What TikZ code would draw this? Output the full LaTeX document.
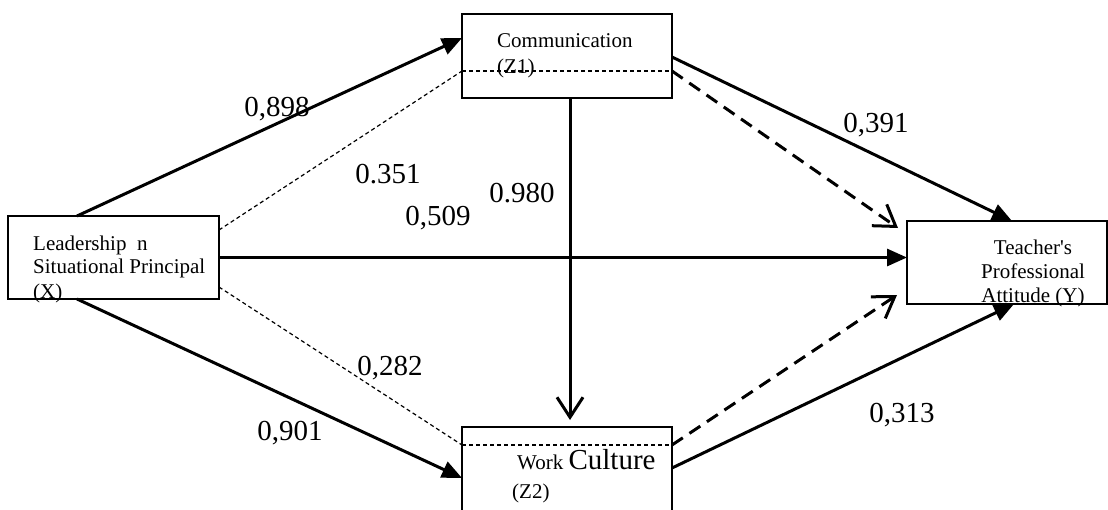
\documentclass[tikz,border=0pt]{standalone}
\usepackage{fontspec}
\setmainfont{Liberation Serif}
\usetikzlibrary{arrows.meta}
\begin{document}
\begin{tikzpicture}[x=1pt,y=-1pt,
  box/.style={draw, line width=2.5pt, inner sep=0pt, outer sep=0pt},
  boxtxt/.style={anchor=base west, inner sep=0pt, font=\fontsize{21}{24}\selectfont},
  boxtxtc/.style={anchor=base, inner sep=0pt, font=\fontsize{21}{24}\selectfont},
  coef/.style={anchor=base, inner sep=0pt, font=\fontsize{29}{32}\selectfont},
  solidarrow/.style={line width=3pt, -{Triangle[length=20pt,width=17pt]}},
  dasharrow/.style={line width=3pt, dash pattern=on 13pt off 8pt, -{Straight Barb[length=20pt,width=26pt]}},
  openarrow/.style={line width=3pt, -{Straight Barb[length=20pt,width=26pt]}},
  thindash/.style={line width=1.2pt, dash pattern=on 4pt off 3pt}]
\useasboundingbox (0,0) rectangle (1108,509);
\clip (0,0) rectangle (1108,509);
\fill[white] (0,0) rectangle (1108,509);

% boxes
\node[box, minimum width=211pt, minimum height=83pt] (X) at (113.5,257.5) {};
\node[box, minimum width=210pt, minimum height=84pt] (Z1) at (567,56) {};
\node[box, minimum width=210pt, minimum height=88pt] (Z2) at (567,471) {};
\node[box, minimum width=200pt, minimum height=83pt] (Y) at (1007,262.5) {};

% box texts
\node[boxtxt] (xt1) at (33,250) {Leadership\ \ n};
\node[boxtxt] (xt2) at (33,273) {Situational Principal};
\node[boxtxt] (xt3) at (33,298) {(X)};
\node[boxtxt] (z1t1) at (497,47) {Communication};
\node[boxtxt] (z1t2) at (497,73) {(Z1)};
\node[boxtxt] (z2t1) at (517,469) {Work {\fontsize{29}{32}\selectfont Culture}};
\node[boxtxt] (z2t2) at (512,498) {(Z2)};
\node[boxtxtc] (yt1) at (1033,254) {Teacher\textquotesingle s};
\node[boxtxtc] (yt2) at (1033,278) {Professional};
\node[boxtxtc] (yt3) at (1033,302) {Attitude (Y)};

% helper coordinates
\coordinate (z1dl) at ([yshift=-15pt]Z1.west);
\coordinate (z1dr) at ([yshift=-15pt]Z1.east);
\coordinate (z2dl) at ([yshift=26pt]Z2.west);
\coordinate (z2dr) at ([yshift=26pt]Z2.east);
\coordinate (yup) at ([xshift=-9pt,yshift=-7pt]Y.north west);
\coordinate (ylo) at ([xshift=-10pt,yshift=9pt]Y.south west);

% dashed separators inside boxes
\draw[thindash] (z1dl) -- (z1dr);
\draw[thindash] (z2dl) -- (z2dr);

% thin dashed from X
\draw[thindash] ([yshift=27.5pt]X.east) -- (z1dl);
\draw[thindash] ([yshift=-29.5pt]X.east) -- (z2dl);

% solid arrows
\draw[solidarrow] ([xshift=69pt]X.north west) -- ([yshift=18pt]Z1.west);
\draw[solidarrow] ([xshift=69pt]X.south west) -- ([yshift=-7pt]Z2.west);
\draw[solidarrow] (X.east) -- (X.east -| Y.west);
\draw[solidarrow] ([yshift=-1pt]Z1.east) -- ([xshift=5pt]Y.north);
\draw[solidarrow] ([yshift=3pt]Z2.east) -- ([xshift=7pt]Y.south);

% vertical arrow
\draw[openarrow] ([xshift=3pt]Z1.south) -- ([xshift=3pt,yshift=7pt]Z2.north);

% dashed arrows
\draw[dasharrow] (z1dr) -- (yup);
\draw[dasharrow] (z2dr) -- (ylo);

% coefficients
\node[coef] (c898) at (277,116) {0,898};
\node[coef] (c351) at (388,183) {0.351};
\node[coef] (c509) at (438,225) {0,509};
\node[coef] (c980) at (522,202) {0.980};
\node[coef] (c391) at (876,132) {0,391};
\node[coef] (c282) at (390,375) {0,282};
\node[coef] (c901) at (290,440) {0,901};
\node[coef] (c313) at (902,422) {0,313};
\end{tikzpicture}
\end{document}
